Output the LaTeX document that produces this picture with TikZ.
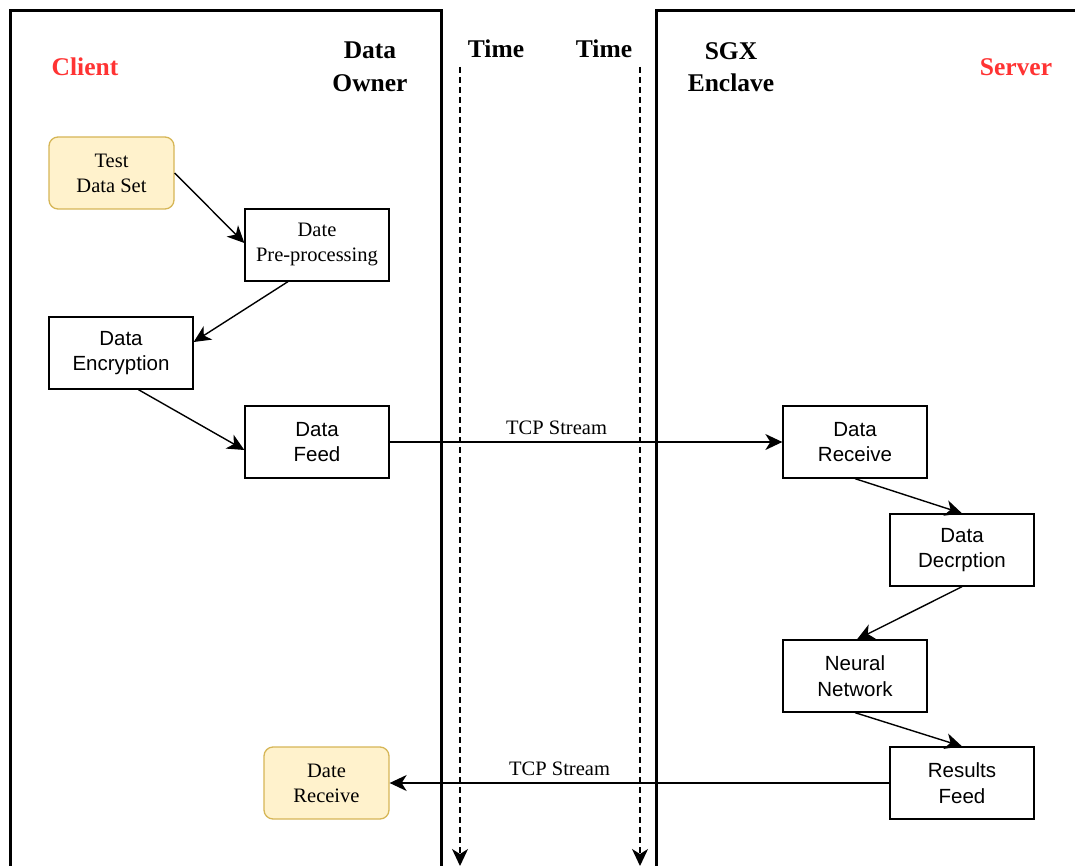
\documentclass[tikz,border=0pt]{standalone}
\usepackage{fontspec}
\setmainfont{Liberation Serif}
\setsansfont{Liberation Sans}
\usetikzlibrary{arrows.meta,calc}
\definecolor{noteFill}{HTML}{FFF2CC}
\definecolor{noteDraw}{HTML}{D6B656}
\definecolor{tagRed}{HTML}{FF3333}
\begin{document}
\begin{tikzpicture}[x=1pt,y=-1pt,
  panel/.style={line width=3pt},
  head/.style={font=\bfseries\fontsize{25.5}{32.5}\selectfont, align=center, inner sep=0pt},
  tag/.style={head, text=tagRed},
  stepbox/.style={draw, line width=1.3pt, minimum width=144pt, minimum height=72pt,
    inner sep=0pt, align=center, font=\sffamily\fontsize{20.5}{25.5}\selectfont},
  serifbox/.style={stepbox, font=\fontsize{20.5}{25}\selectfont},
  notebox/.style={serifbox, rounded corners=9pt, fill=noteFill, draw=noteDraw,
    minimum width=125pt},
  flow/.style={line width=1.4pt, -{Stealth[length=17pt,width=16pt,inset=5pt]}},
  timeline/.style={flow, dashed, dash pattern=on 6pt off 4pt},
  lbl/.style={font=\fontsize{20.5}{25}\selectfont, inner sep=0pt}
]
\useasboundingbox (0,0) rectangle (1075,866);

% swim-lane frames, open at the bottom and on the right
\draw[panel] (10,880) -- (10,11) -- (441,11) -- (441,880);
\draw[panel] (1090,11) -- (656,11) -- (656,880);

% lane headings
\node[tag]  (client) at (85,67) {Client};
\node[head] (owner)  at (370,67) {Data\\Owner};
\node[head] (time1)  at (496,49) {Time};
\node[head] (time2)  at (604,49) {Time};
\node[head] (sgx)    at (731,67) {SGX\\Enclave};
\node[tag]  (server) at (1016,67) {Server};

% time axes
\coordinate (t1a) at (460,67);
\coordinate (t1b) at (460,866);
\coordinate (t2a) at (640,67);
\coordinate (t2b) at (640,866);
\draw[timeline] (t1a) -- (t1b);
\draw[timeline] (t2a) -- (t2b);

% client side
\node[notebox]  (tds)  at (111.5,173) {Test\\Data Set};
\node[serifbox] (pre)  at (317,245)   {Date\\Pre-processing};
\node[stepbox]  (enc)  at (121,353)   {Data\\Encryption};
\node[stepbox]  (feed) at (317,442)   {Data\\Feed};
\node[notebox]  (drec) at (326.5,783) {Date\\Receive};

% server side
\node[stepbox] (rcv) at (855,442) {Data\\Receive};
\node[stepbox] (dec) at (962,550) {Data\\Decrption};
\node[stepbox] (nn)  at (855,676) {Neural\\Network};
\node[stepbox] (res) at (962,783) {Results\\Feed};

% client pipeline
\draw[flow] (tds.east) -- ($(pre.west)+(0,-2)$);
\draw[flow] ($(pre.south west)!0.3!(pre.south east)$) -- ($(enc.east)+(0,-11)$);
\draw[flow] ($(enc.south west)!0.62!(enc.south east)$) -- ($(feed.west)+(0,8)$);

% network transfers
\draw[flow] (feed.east) -- node[lbl, above=7pt, pos=0.425] {TCP Stream} (rcv.west);
\draw[flow] (res.west) -- node[lbl, above=7pt, pos=0.66] {TCP Stream} (drec.east);

% enclave pipeline
\draw[flow] (rcv.south) -- (dec.north);
\draw[flow] (dec.south) -- ($(nn.north)+(2,0)$);
\draw[flow] (nn.south) -- (res.north);
\end{tikzpicture}
\end{document}
